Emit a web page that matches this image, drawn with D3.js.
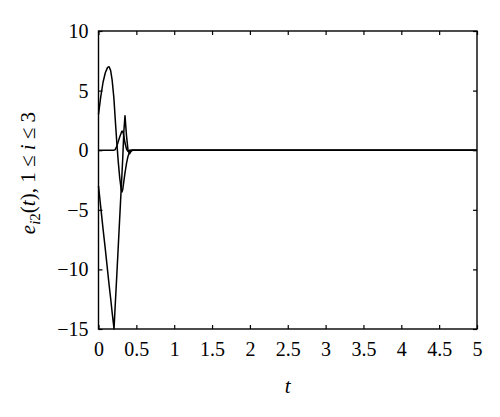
<!DOCTYPE html>
<html>
<head>
<meta charset="utf-8">
<script src="https://d3js.org/d3.v7.min.js"></script>
<style>
  body { margin: 0; background: #fff; }
  text { font-family: "Liberation Serif", "DejaVu Serif", serif; fill: #000; }
</style>
</head>
<body>
<svg id="chart" width="500" height="417"></svg>
<script>
// time samples (shared by the three error curves)
var timeValues = [0, 0.03, 0.06, 0.09, 0.12, 0.14, 0.16, 0.18, 0.2, 0.205, 0.22, 0.24, 0.26, 0.28, 0.3, 0.31, 0.32, 0.335, 0.35, 0.37, 0.39, 0.41, 0.43, 0.45, 0.5, 1, 1.5, 2, 2.5, 3, 3.5, 4, 4.5, 5];
var e12 = [3.0, 4.5, 5.7, 6.5, 6.95, 7.0, 6.7, 5.9, 4.6, 4.2, 2.7, 0.8, -0.9, -2.3, -3.3, -3.5, -3.3, -2.6, -1.9, -1.1, -0.5, -0.15, 0, 0, 0, 0, 0, 0, 0, 0, 0, 0, 0, 0];
var e22 = [-3.0, -4.8, -6.6, -8.3, -10.1, -11.3, -12.4, -13.6, -14.7, -15.0, -13.1, -10.7, -8.2, -5.7, -3.2, -2.0, -0.7, 1.6, 2.9, 1.2, 0.0, -0.3, -0.1, 0, 0, 0, 0, 0, 0, 0, 0, 0, 0, 0];
var e32 = [0, 0, 0, 0, 0, 0, 0, 0, 0, 0, 0.05, 0.3, 0.7, 1.1, 1.45, 1.6, 1.6, 1.2, 0.6, 0.1, -0.1, 0, 0, 0, 0, 0, 0, 0, 0, 0, 0, 0, 0, 0];
var xTicks = [0, 0.5, 1, 1.5, 2, 2.5, 3, 3.5, 4, 4.5, 5];
var yTicks = [-15, -10, -5, 0, 5, 10];

var svg = d3.select("#chart");
var plotLeft = 98.5, plotRight = 477, plotTop = 31, plotBottom = 329;

var x = d3.scaleLinear().domain([0, 5]).range([plotLeft, plotRight]);
var y = d3.scaleLinear().domain([-15, 10]).range([plotBottom, plotTop]);

// axes with inward ticks
var gx = svg.append("g").attr("transform", "translate(0," + plotBottom + ")")
    .call(d3.axisBottom(x).tickValues(xTicks).tickSize(-4).tickSizeOuter(0).tickPadding(13)
        .tickFormat(function(d) { return String(d); }));
var gy = svg.append("g").attr("transform", "translate(" + plotLeft + ",0)")
    .call(d3.axisLeft(y).tickValues(yTicks).tickSize(-4).tickSizeOuter(0).tickPadding(10));
var gt = svg.append("g").attr("transform", "translate(0," + plotTop + ")")
    .call(d3.axisTop(x).tickValues(xTicks).tickSize(-4).tickSizeOuter(0).tickFormat(""));
var gr = svg.append("g").attr("transform", "translate(" + plotRight + ",0)")
    .call(d3.axisRight(y).tickValues(yTicks).tickSize(-4).tickSizeOuter(0).tickFormat(""));

[gx, gy, gt, gr].forEach(function(g) {
    g.select(".domain").remove();
    g.selectAll(".tick line").attr("stroke", "#000").attr("stroke-width", 1.2);
    g.selectAll(".tick text").style("font-size", "20px").attr("fill", "#000");
});

// curves
var line = d3.line()
    .x(function(d) { return x(d[0]); })
    .y(function(d) { return y(d[1]); });

[e12, e22, e32].forEach(function(series) {
    svg.append("path")
        .datum(timeValues.map(function(t, i) { return [t, series[i]]; }))
        .attr("fill", "none")
        .attr("stroke", "#000")
        .attr("stroke-width", 1.5)
        .attr("stroke-linejoin", "round")
        .attr("d", line);
});

// frame
svg.append("rect")
    .attr("x", plotLeft).attr("y", plotTop)
    .attr("width", plotRight - plotLeft).attr("height", plotBottom - plotTop)
    .attr("fill", "none")
    .attr("stroke", "#000")
    .attr("stroke-width", 1.4);

// x label
svg.append("text")
    .attr("x", (plotLeft + plotRight) / 2)
    .attr("y", 393)
    .attr("text-anchor", "middle")
    .style("font-size", "21px")
    .style("font-style", "italic")
    .text("t");

// y label
var yl = svg.append("text")
    .attr("transform", "translate(35,173) rotate(-90)")
    .attr("text-anchor", "middle")
    .style("font-size", "21px");
yl.append("tspan").style("font-style", "italic").text("e");
yl.append("tspan").style("font-style", "italic").style("font-size", "15px").attr("dy", 5).text("i");
yl.append("tspan").style("font-size", "15px").text("2");
yl.append("tspan").attr("dy", -5).text("(");
yl.append("tspan").style("font-style", "italic").text("t");
yl.append("tspan").text("), 1 \u2264 ");
yl.append("tspan").style("font-style", "italic").text("i");
yl.append("tspan").text(" \u2264 3");
</script>
</body>
</html>
